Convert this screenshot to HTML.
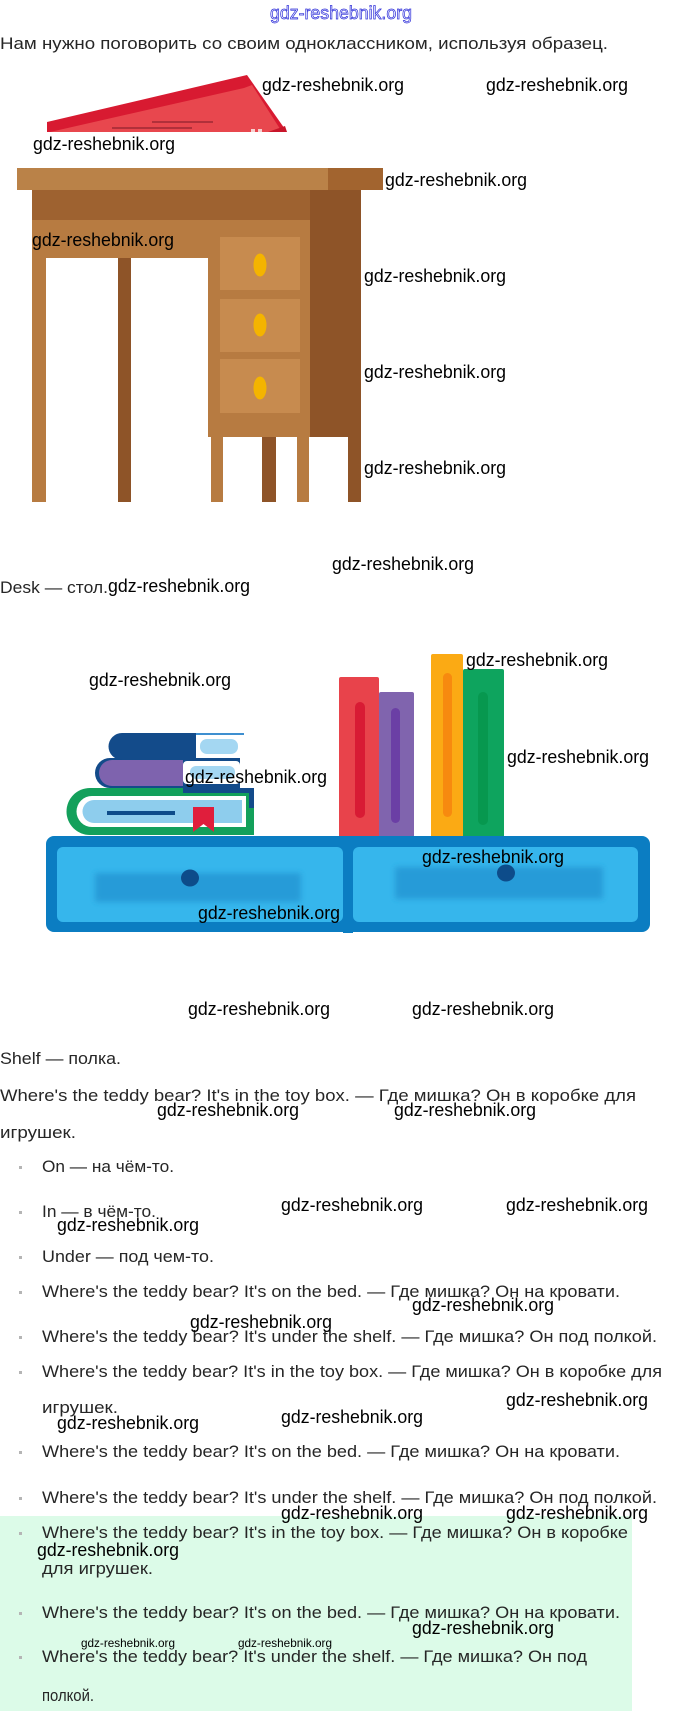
<!DOCTYPE html>
<html>
<head>
<meta charset="utf-8">
<style>
html,body{margin:0;padding:0;background:#fff;}
svg{display:block;}
.t{font-family:"Liberation Sans","DejaVu Sans",sans-serif;font-size:17px;fill:#262626;}
.w{font-family:"Liberation Sans","DejaVu Sans",sans-serif;font-size:18px;fill:#000;}
.ws{font-family:"Liberation Sans","DejaVu Sans",sans-serif;font-size:12px;fill:#000;}
</style>
</head>
<body>
<svg width="680" height="1711" viewBox="0 0 680 1711" xmlns="http://www.w3.org/2000/svg">
<defs>
<filter id="bl" x="-20%" y="-50%" width="140%" height="200%"><feGaussianBlur stdDeviation="3"/></filter>
</defs>
<rect x="0" y="0" width="680" height="1711" fill="#fff"/>

<!-- green panel -->
<rect x="0" y="1516" width="632" height="195" fill="#dcfbe8"/>

<!-- top blue watermark -->
<text x="270" y="19" font-family="Liberation Sans, DejaVu Sans, sans-serif" font-size="18" fill="#eef0ff" stroke="#2f2fd8" stroke-width="0.7" textLength="142" lengthAdjust="spacingAndGlyphs">gdz-reshebnik.org</text>

<!-- red book (cropped) -->
<polygon points="47,122 247,75 287,132 47,132" fill="#d81a31"/>
<polygon points="50,132 244,88 252,85 282,132" fill="#e8474e"/>
<line x1="112" y1="128" x2="192" y2="128" stroke="#7a1a25" stroke-width="1"/>
<line x1="152" y1="122" x2="213" y2="122" stroke="#7a1a25" stroke-width="1"/>
<rect x="251" y="129" width="4" height="3" fill="#f6d0d0"/>
<rect x="258" y="129" width="4" height="3" fill="#f6d0d0"/>
<polygon points="268,132 285,126 287,132" fill="#c8152a"/>

<!-- desk -->
<rect x="17" y="168" width="366" height="22" fill="#ba8248"/>
<rect x="328" y="168" width="55" height="22" fill="#a2642f"/>
<rect x="32" y="190" width="278" height="30" fill="#9e6230"/>
<rect x="310" y="190" width="51" height="247" fill="#8e5428"/>
<rect x="348" y="437" width="13" height="65" fill="#8e5428"/>
<rect x="32" y="220" width="278" height="38" fill="#b77b41"/>
<rect x="208" y="220" width="102" height="217" fill="#b77b41"/>
<rect x="220" y="237" width="80" height="53" fill="#c78b4f"/>
<rect x="220" y="299" width="80" height="53" fill="#c78b4f"/>
<rect x="220" y="359" width="80" height="54" fill="#c78b4f"/>
<ellipse cx="260" cy="265" rx="6.5" ry="11.5" fill="#f4b400"/>
<ellipse cx="260" cy="325" rx="6.5" ry="11.5" fill="#f4b400"/>
<ellipse cx="260" cy="388" rx="6.5" ry="11.5" fill="#f4b400"/>
<rect x="32" y="258" width="14" height="244" fill="#b77b41"/>
<rect x="118" y="258" width="13" height="244" fill="#8e5428"/>
<rect x="211" y="437" width="12" height="65" fill="#b77b41"/>
<rect x="262" y="437" width="14" height="65" fill="#8e5428"/>
<rect x="297" y="437" width="12" height="65" fill="#b77b41"/>

<!-- standing books -->
<rect x="339" y="677" width="40" height="161" rx="2" fill="#e8434b"/>
<rect x="355" y="702" width="10" height="116" rx="5" fill="#d81b34"/>
<rect x="379" y="692" width="35" height="146" rx="2" fill="#8064ae"/>
<rect x="391" y="708" width="9" height="115" rx="4.5" fill="#6b3fa5"/>
<rect x="431" y="654" width="32" height="184" rx="2" fill="#fbaa14"/>
<rect x="443" y="673" width="9" height="144" rx="4.5" fill="#f78a0f"/>
<rect x="463" y="669" width="41" height="169" rx="2" fill="#0ea45e"/>
<rect x="478" y="692" width="10" height="133" rx="5" fill="#07984f"/>

<!-- stacked books -->
<path d="M254,788 H90 A23.5,23.5 0 0 0 90,835 H254 Z" fill="#13a05b"/>
<path d="M246,796 H92 A15.5,15.5 0 0 0 92,827 H246 Z" fill="#ffffff"/>
<path d="M242,800 H94 A11.5,11.5 0 0 0 94,823 H242 Z" fill="#8ecded"/>
<rect x="183" y="788" width="71" height="5" fill="#134b8a"/>
<rect x="249" y="788" width="5" height="20" fill="#134b8a"/>
<rect x="107" y="811" width="68" height="4" fill="#0d4c8a"/>
<path d="M193,807 H214 V832 L203.5,824 L193,832 Z" fill="#e01e3c"/>
<path d="M240,758 H110 A15,15 0 0 0 110,788 H240 Z" fill="#134b8a"/>
<path d="M183,760 H112 A13,13 0 0 0 112,786 H183 Z" fill="#7e63ae"/>
<rect x="183" y="761" width="57" height="23" rx="4" fill="#ffffff"/>
<rect x="190" y="766" width="45" height="13" rx="6" fill="#a4d7f2"/>
<path d="M196,733 H122 A13.5,13.5 0 0 0 122,760 H196 Z" fill="#134b8a"/>
<rect x="196" y="733" width="48" height="2" fill="#3e8fd0"/>
<rect x="196" y="735" width="48" height="23" rx="3" fill="#ffffff"/>
<rect x="200" y="739" width="38" height="15" rx="7" fill="#a4d7f2"/>

<!-- shelf -->
<rect x="46" y="836" width="604" height="96" rx="8" fill="#0b7dc2"/>
<rect x="343" y="836" width="10" height="97" fill="#0b7dc2"/>
<rect x="57" y="847" width="286" height="75" rx="6" fill="#36b6ec"/>
<rect x="353" y="847" width="285" height="75" rx="6" fill="#36b6ec"/>
<rect x="95" y="873" width="206" height="29" fill="#259bd8" filter="url(#bl)"/>
<rect x="395" y="867" width="208" height="32" fill="#259bd8" filter="url(#bl)"/>
<ellipse cx="190" cy="878" rx="9" ry="8.5" fill="#0d4c8a"/>
<ellipse cx="506" cy="873" rx="9" ry="8.5" fill="#0d4c8a"/>

<!-- main text -->
<text class="t" x="0" y="49" textLength="608" lengthAdjust="spacingAndGlyphs">Нам нужно поговорить со своим одноклассником, используя образец.</text>
<text class="t" x="0" y="593" textLength="108" lengthAdjust="spacingAndGlyphs">Desk — стол.</text>
<text class="t" x="0" y="1064" textLength="121" lengthAdjust="spacingAndGlyphs">Shelf — полка.</text>
<text class="t" x="0" y="1101" textLength="636" lengthAdjust="spacingAndGlyphs">Where's the teddy bear? It's in the toy box. — Где мишка? Он в коробке для</text>
<text class="t" x="0" y="1138" textLength="76" lengthAdjust="spacingAndGlyphs">игрушек.</text>

<text class="t" x="42" y="1172" textLength="132" lengthAdjust="spacingAndGlyphs">On — на чём-то.</text>
<text class="t" x="42" y="1217" textLength="114" lengthAdjust="spacingAndGlyphs">In — в чём-то.</text>
<text class="t" x="42" y="1262" textLength="172" lengthAdjust="spacingAndGlyphs">Under — под чем-то.</text>
<text class="t" x="42" y="1297" textLength="578" lengthAdjust="spacingAndGlyphs">Where's the teddy bear? It's on the bed. — Где мишка? Он на кровати.</text>
<text class="t" x="42" y="1342" textLength="615" lengthAdjust="spacingAndGlyphs">Where's the teddy bear? It's under the shelf. — Где мишка? Он под полкой.</text>
<text class="t" x="42" y="1377" textLength="620" lengthAdjust="spacingAndGlyphs">Where's the teddy bear? It's in the toy box. — Где мишка? Он в коробке для</text>
<text class="t" x="42" y="1413" textLength="76" lengthAdjust="spacingAndGlyphs">игрушек.</text>
<text class="t" x="42" y="1457" textLength="578" lengthAdjust="spacingAndGlyphs">Where's the teddy bear? It's on the bed. — Где мишка? Он на кровати.</text>
<text class="t" x="42" y="1503" textLength="615" lengthAdjust="spacingAndGlyphs">Where's the teddy bear? It's under the shelf. — Где мишка? Он под полкой.</text>
<text class="t" x="42" y="1538" textLength="586" lengthAdjust="spacingAndGlyphs">Where's the teddy bear? It's in the toy box. — Где мишка? Он в коробке</text>
<text class="t" x="42" y="1574" textLength="111" lengthAdjust="spacingAndGlyphs">для игрушек.</text>
<text class="t" x="42" y="1618" textLength="578" lengthAdjust="spacingAndGlyphs">Where's the teddy bear? It's on the bed. — Где мишка? Он на кровати.</text>
<text class="t" x="42" y="1662" textLength="545" lengthAdjust="spacingAndGlyphs">Where's the teddy bear? It's under the shelf. — Где мишка? Он под</text>
<text class="t" x="42" y="1701" textLength="52" lengthAdjust="spacingAndGlyphs">полкой.</text>

<!-- bullets -->
<g fill="#b5b5b5">
<rect x="19" y="1166" width="3" height="3"/>
<rect x="19" y="1211" width="3" height="3"/>
<rect x="19" y="1256" width="3" height="3"/>
<rect x="19" y="1291" width="3" height="3"/>
<rect x="19" y="1336" width="3" height="3"/>
<rect x="19" y="1371" width="3" height="3"/>
<rect x="19" y="1451" width="3" height="3"/>
<rect x="19" y="1497" width="3" height="3"/>
<rect x="19" y="1532" width="3" height="3"/>
<rect x="19" y="1612" width="3" height="3"/>
<rect x="19" y="1656" width="3" height="3"/>
</g>

<!-- watermarks -->
<g>
<text class="w" x="262" y="91" textLength="142" lengthAdjust="spacingAndGlyphs">gdz-reshebnik.org</text>
<text class="w" x="486" y="91" textLength="142" lengthAdjust="spacingAndGlyphs">gdz-reshebnik.org</text>
<text class="w" x="33" y="150" textLength="142" lengthAdjust="spacingAndGlyphs">gdz-reshebnik.org</text>
<text class="w" x="385" y="186" textLength="142" lengthAdjust="spacingAndGlyphs">gdz-reshebnik.org</text>
<text class="w" x="32" y="246" textLength="142" lengthAdjust="spacingAndGlyphs">gdz-reshebnik.org</text>
<text class="w" x="364" y="282" textLength="142" lengthAdjust="spacingAndGlyphs">gdz-reshebnik.org</text>
<text class="w" x="364" y="378" textLength="142" lengthAdjust="spacingAndGlyphs">gdz-reshebnik.org</text>
<text class="w" x="364" y="474" textLength="142" lengthAdjust="spacingAndGlyphs">gdz-reshebnik.org</text>
<text class="w" x="332" y="570" textLength="142" lengthAdjust="spacingAndGlyphs">gdz-reshebnik.org</text>
<text class="w" x="108" y="592" textLength="142" lengthAdjust="spacingAndGlyphs">gdz-reshebnik.org</text>
<text class="w" x="89" y="686" textLength="142" lengthAdjust="spacingAndGlyphs">gdz-reshebnik.org</text>
<text class="w" x="466" y="666" textLength="142" lengthAdjust="spacingAndGlyphs">gdz-reshebnik.org</text>
<text class="w" x="507" y="763" textLength="142" lengthAdjust="spacingAndGlyphs">gdz-reshebnik.org</text>
<text class="w" x="185" y="783" textLength="142" lengthAdjust="spacingAndGlyphs">gdz-reshebnik.org</text>
<text class="w" x="422" y="863" textLength="142" lengthAdjust="spacingAndGlyphs">gdz-reshebnik.org</text>
<text class="w" x="198" y="919" textLength="142" lengthAdjust="spacingAndGlyphs">gdz-reshebnik.org</text>
<text class="w" x="188" y="1015" textLength="142" lengthAdjust="spacingAndGlyphs">gdz-reshebnik.org</text>
<text class="w" x="412" y="1015" textLength="142" lengthAdjust="spacingAndGlyphs">gdz-reshebnik.org</text>
<text class="w" x="157" y="1116" textLength="142" lengthAdjust="spacingAndGlyphs">gdz-reshebnik.org</text>
<text class="w" x="394" y="1116" textLength="142" lengthAdjust="spacingAndGlyphs">gdz-reshebnik.org</text>
<text class="w" x="281" y="1211" textLength="142" lengthAdjust="spacingAndGlyphs">gdz-reshebnik.org</text>
<text class="w" x="506" y="1211" textLength="142" lengthAdjust="spacingAndGlyphs">gdz-reshebnik.org</text>
<text class="w" x="57" y="1231" textLength="142" lengthAdjust="spacingAndGlyphs">gdz-reshebnik.org</text>
<text class="w" x="412" y="1311" textLength="142" lengthAdjust="spacingAndGlyphs">gdz-reshebnik.org</text>
<text class="w" x="190" y="1328" textLength="142" lengthAdjust="spacingAndGlyphs">gdz-reshebnik.org</text>
<text class="w" x="506" y="1406" textLength="142" lengthAdjust="spacingAndGlyphs">gdz-reshebnik.org</text>
<text class="w" x="281" y="1423" textLength="142" lengthAdjust="spacingAndGlyphs">gdz-reshebnik.org</text>
<text class="w" x="57" y="1429" textLength="142" lengthAdjust="spacingAndGlyphs">gdz-reshebnik.org</text>
<text class="w" x="281" y="1519" textLength="142" lengthAdjust="spacingAndGlyphs">gdz-reshebnik.org</text>
<text class="w" x="506" y="1519" textLength="142" lengthAdjust="spacingAndGlyphs">gdz-reshebnik.org</text>
<text class="w" x="37" y="1556" textLength="142" lengthAdjust="spacingAndGlyphs">gdz-reshebnik.org</text>
<text class="w" x="412" y="1634" textLength="142" lengthAdjust="spacingAndGlyphs">gdz-reshebnik.org</text>
<text class="ws" x="81" y="1647" textLength="94" lengthAdjust="spacingAndGlyphs">gdz-reshebnik.org</text>
<text class="ws" x="238" y="1647" textLength="94" lengthAdjust="spacingAndGlyphs">gdz-reshebnik.org</text>
</g>
</svg>
</body>
</html>
